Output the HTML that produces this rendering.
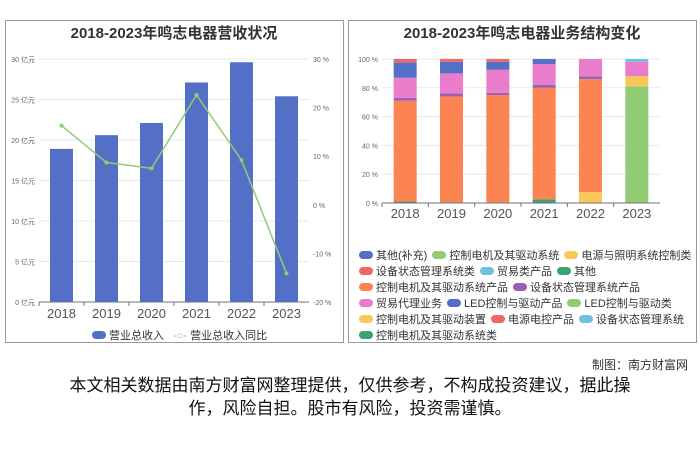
<!DOCTYPE html>
<html><head><meta charset="utf-8"><style>
body{margin:0;background:#fff;width:700px;height:467px;overflow:hidden;font-family:"Liberation Sans","Noto Sans CJK SC",sans-serif;position:relative}
.panel{position:absolute;top:20px;height:323px;border:1px solid #999;box-sizing:border-box;background:#fff}
.t{font-weight:bold;font-size:15px;fill:#333}
.lg{position:absolute;font-size:11px;color:#333;white-space:nowrap}
.lg span.sw{display:inline-block;width:14px;height:8px;border-radius:4px;margin-right:3px;vertical-align:0px}
</style></head><body>
<div class="panel" style="left:5px;width:339px"></div>
<div class="panel" style="left:348px;width:349px"></div>
<svg id="s" width="700" height="467" style="position:absolute;left:0;top:0">
<text class="t" x="174" y="38" text-anchor="middle">2018-2023年鸣志电器营收状况</text>
<text class="t" x="522" y="38" text-anchor="middle">2018-2023年鸣志电器业务结构变化</text>
<g id="left"></g><g id="right"></g>
</svg>
<div class="lg" style="left:92px;top:327px;font-size:11px">
<span><span class="sw" style="background:#5470c6"></span>营业总收入</span>
<span style="margin-left:6px"><span style="color:#91cc75">-○-</span> 营业总收入同比</span>
</div>
<div id="rl"></div>
<div style="position:absolute;right:12px;top:356px;font-size:12px;color:#333">制图：南方财富网</div>
<div style="position:absolute;left:57px;width:586px;top:374px;font-size:17px;line-height:23px;text-align:center;color:#111">本文相关数据由南方财富网整理提供，仅供参考，不构成投资建议，据此操作，风险自担。股市有风险，投资需谨慎。</div>
<script>
const years=["2018","2019","2020","2021","2022","2023"];
const revenue=[18.9,20.6,22.1,27.1,29.6,25.4];
const yoy=[16.3,8.7,7.5,22.6,9.2,-14.1];
const leftTicks=[0,5,10,15,20,25,30];
const rightTicks=[-20,-10,0,10,20,30];
const segNames=["控制电机及其驱动系统类","控制电机及其驱动系统","电源与照明系统控制类","控制电机及其驱动系统产品","设备状态管理系统产品","贸易代理业务","LED控制与驱动产品","电源电控产品","设备状态管理系统"];
const segColors=["#3ba272","#91cc75","#fac858","#fc8452","#9a60b4","#ea7ccc","#5470c6","#ee6666","#73c0de"];
const s0=[1,0.5,0.5,2.5,0,0];
const s1=[0,0,0,0,0,81];
const s2=[0,0,0,0,7.5,7];
const s3=[70,73.5,74.5,77.5,78.5,0];
const s4=[2,2,1.5,2,2,0];
const s5=[14,14,16,14.5,12,10];
const s6=[10.5,8,5.5,3.5,0,0];
const s7=[2.5,2,2,0,0,0];
const s8=[0,0,0,0,0,2];
const series=[s0,s1,s2,s3,s4,s5,s6,s7,s8];
const pctTicks=[0,20,40,60,80,100];
const legendNames=["其他(补充)","控制电机及其驱动系统","电源与照明系统控制类","设备状态管理系统类","贸易类产品","其他","控制电机及其驱动系统产品","设备状态管理系统产品","贸易代理业务","LED控制与驱动产品","LED控制与驱动类","控制电机及其驱动装置","电源电控产品","设备状态管理系统","控制电机及其驱动系统类"];
const legendColors=["#5470c6","#91cc75","#fac858","#ee6666","#73c0de","#3ba272","#fc8452","#9a60b4","#ea7ccc","#5470c6","#91cc75","#fac858","#ee6666","#73c0de","#3ba272"];
const legendRows=[3,3,2,3,3,1];
const NS="http://www.w3.org/2000/svg";
function mk(p,tag,at,txt){const e=document.createElementNS(NS,tag);for(const k in at)e.setAttribute(k,at[k]);if(txt!=null)e.textContent=txt;p.appendChild(e);return e;}
const L=document.getElementById('left');
const lx0=39,lx1=309,ly0=302,ly1=59;
const yL=v=>ly0-(v/30)*(ly0-ly1);
const yR=v=>ly0-((v+20)/50)*(ly0-ly1);
const bw=(lx1-lx0)/years.length;
const xL=i=>lx0+bw*(i+0.5);
leftTicks.forEach(t=>{mk(L,'line',{x1:lx0,x2:lx1,y1:yL(t),y2:yL(t),stroke:'#e6e9f2'});
const e=mk(L,'text',{x:35,y:yL(t)+3,'text-anchor':'end','font-size':7,fill:'#666'},t+' 亿元');});
rightTicks.forEach(t=>{const e=mk(L,'text',{x:313,y:yR(t)+3,'font-size':7,fill:'#666'},t+' %');});
mk(L,'line',{x1:lx0,x2:lx1,y1:ly0,y2:ly0,stroke:'#6e7079'});
years.forEach((y,i)=>{const b=mk(L,'rect',{x:xL(i)-11.5,y:yL(revenue[i]),width:23,height:ly0-yL(revenue[i]),fill:'#5470c6'});

const t=mk(L,'text',{x:xL(i),y:318,'text-anchor':'middle','font-size':13,fill:'#555'},y);
mk(L,'line',{x1:lx0+bw*i,x2:lx0+bw*i,y1:ly0,y2:ly0+4,stroke:'#6e7079'});});
const ln=mk(L,'polyline',{points:yoy.map((v,i)=>xL(i)+','+yR(v)).join(' '),fill:'none',stroke:'#91cc75','stroke-width':1.5});

yoy.forEach((v,i)=>{const c=mk(L,'circle',{cx:xL(i),cy:yR(v),r:2,fill:'#91cc75'});});
const R=document.getElementById('right');
const rx0=382,rx1=660,ry0=203,ry1=59;
const yP=v=>ry0-(v/100)*(ry0-ry1);
const rbw=(rx1-rx0)/years.length;
const xP=i=>rx0+rbw*(i+0.5);
pctTicks.forEach(t=>{mk(R,'line',{x1:rx0,x2:rx1,y1:yP(t),y2:yP(t),stroke:'#e6e9f2'});
const e=mk(R,'text',{x:378,y:yP(t)+3,'text-anchor':'end','font-size':7,fill:'#666'},t+' %');});
years.forEach((y,i)=>{let acc=0;series.forEach((s,k)=>{if(s[i]>0){const r=mk(R,'rect',{x:xP(i)-11.5,y:yP(acc+s[i]),width:23,height:yP(acc)-yP(acc+s[i]),fill:segColors[k]});
acc+=s[i];}});
const t=mk(R,'text',{x:xP(i),y:218,'text-anchor':'middle','font-size':13,fill:'#555'},y);
mk(R,'line',{x1:rx0+rbw*i,x2:rx0+rbw*i,y1:ry0,y2:ry0+4,stroke:'#6e7079'});});
mk(R,'line',{x1:rx0,x2:rx1,y1:ry0,y2:ry0,stroke:'#6e7079'});
const rl=document.getElementById('rl');let idx=0;
legendRows.forEach((n,r)=>{const row=document.createElement('div');row.className='lg';row.style.left='359px';row.style.top=(247+r*16)+'px';
for(let j=0;j<n;j++,idx++){const it=document.createElement('span');


it.style.marginRight='5px';it.innerHTML='<span class="sw" style="background:'+legendColors[idx]+'"></span>'+legendNames[idx];row.appendChild(it);}
rl.appendChild(row);});
</script>
</body></html>
